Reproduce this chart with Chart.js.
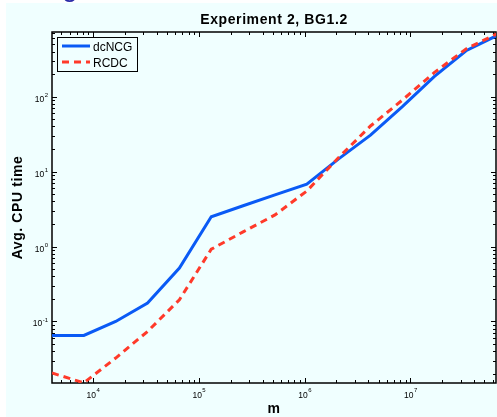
<!DOCTYPE html>
<html><head><meta charset="utf-8">
<script src="https://cdn.jsdelivr.net/npm/chart.js@4/dist/chart.umd.min.js"></script>
<style>html,body{margin:0;padding:0;background:#fff;overflow:hidden}canvas{display:block}</style>
</head><body><canvas id="c" width="497" height="417"></canvas>
<script>
// ---- data ----
const mValues = [4096, 8192, 16384, 32768, 65536, 131072, 262144, 524288, 1048576, 2097152, 4194304, 8388608, 16777216, 33554432, 67108864];
const dcNCG = [0.065, 0.065, 0.10, 0.176, 0.515, 2.5, 3.5, 4.9, 6.8, 14.8, 30.6, 73.6, 185, 410, 664];
const RCDC  = [0.0205, 0.0152, 0.0325, 0.0736, 0.195, 0.92, 1.57, 2.64, 5.5, 15.4, 40.6, 90, 209, 433, 700];
const seriesNames = ['dcNCG', 'RCDC'];
const xTickExponents = ['4', '5', '6', '7'];
const yTickExponents = ['-1', '0', '1', '2'];
const chartTitle = 'Experiment 2, BG1.2';
const xAxisLabel = 'm';
const yAxisLabel = 'Avg. CPU time';
const xRange = [4096, 6.44e7];
const yRange = [0.0151, 729];

const BLUE = '#0a5af5', RED = '#ff3a2a', BG = '#f0ffff';
const FONT = '"Liberation Sans", Arial, Helvetica, sans-serif';

const pairs = (arr) => mValues.map((m, i) => ({x: m, y: arr[i]}));

const matlabPlugin = {
  id: 'matlab',
  beforeDraw(chart) {
    const ctx = chart.ctx;
    ctx.save();
    ctx.fillStyle = '#fff';
    ctx.fillRect(0, 0, chart.width, chart.height);
    ctx.fillStyle = BG;
    ctx.fillRect(6, 3, chart.width - 6, chart.height - 3);
    // clipped glyph from text above the figure
    ctx.fillStyle = '#2b2ba8';
    ctx.font = '28px ' + FONT;
    ctx.textBaseline = 'alphabetic';
    ctx.fillText('g', 62, -4);
    ctx.restore();
  },
  beforeDatasetsDraw(chart) {
    const ctx = chart.ctx, a = chart.chartArea;
    const xs = chart.scales.x, ys = chart.scales.y;
    ctx.save();
    ctx.strokeStyle = '#000';
    ctx.lineWidth = 1;
    ctx.beginPath();
    for (let k = 3; k <= 7; k++) {
      for (let d = 1; d <= 9; d++) {
        const v = d * Math.pow(10, k);
        if (v < xRange[0] || v > xRange[1]) continue;
        const px = Math.round(xs.getPixelForValue(v)) + 0.5;
        const len = d === 1 ? 5 : 3;
        ctx.moveTo(px, a.bottom); ctx.lineTo(px, a.bottom - len);
        ctx.moveTo(px, a.top); ctx.lineTo(px, a.top + len);
      }
    }
    for (let k = -2; k <= 2; k++) {
      for (let d = 1; d <= 9; d++) {
        const v = d * Math.pow(10, k);
        if (v < yRange[0] || v > yRange[1]) continue;
        const py = Math.round(ys.getPixelForValue(v)) + 0.5;
        const len = d === 1 ? 5 : 3;
        ctx.moveTo(a.left, py); ctx.lineTo(a.left + len, py);
        ctx.moveTo(a.right, py); ctx.lineTo(a.right - len, py);
      }
    }
    ctx.stroke();
    ctx.lineWidth = 1.5;
    ctx.strokeRect(a.left, a.top, a.right - a.left, a.bottom - a.top);
    ctx.restore();
  },
  afterDraw(chart) {
    const ctx = chart.ctx, a = chart.chartArea;
    const xs = chart.scales.x, ys = chart.scales.y;
    ctx.save();
    ctx.fillStyle = '#000';
    ctx.textBaseline = 'alphabetic';
    // x tick labels
    xTickExponents.forEach(e => {
      const px = xs.getPixelForValue(Math.pow(10, +e));
      ctx.font = '8.5px ' + FONT;
      const w1 = ctx.measureText('10').width;
      ctx.font = '6px ' + FONT;
      const w2 = ctx.measureText(e).width;
      const x0 = px - (w1 + w2) / 2;
      ctx.font = '8.5px ' + FONT;
      ctx.textAlign = 'left';
      ctx.fillText('10', x0, 398);
      ctx.font = '6px ' + FONT;
      ctx.fillText(e, x0 + w1 + 0.5, 392);
    });
    // y tick labels
    yTickExponents.forEach(e => {
      const py = ys.getPixelForValue(Math.pow(10, +e));
      ctx.font = '8.5px ' + FONT;
      const w1 = ctx.measureText('10').width;
      ctx.font = '6px ' + FONT;
      const w2 = ctx.measureText(e).width;
      const x0 = 48 - (w1 + w2 + 0.5);
      ctx.font = '8.5px ' + FONT;
      ctx.textAlign = 'left';
      ctx.fillText('10', x0, py + 5);
      ctx.font = '6px ' + FONT;
      ctx.fillText(e, x0 + w1 + 0.5, py + 0.5);
    });
    // title
    ctx.textAlign = 'center';
    ctx.font = 'bold 14px ' + FONT;
    ctx.letterSpacing = '0.6px';
    ctx.fillText(chartTitle, (a.left + a.right) / 2, 24);
    // x label
    ctx.fillText(xAxisLabel, (a.left + a.right) / 2, 413);
    // y label
    ctx.save();
    ctx.translate(22, (a.top + a.bottom) / 2);
    ctx.rotate(-Math.PI / 2);
    ctx.fillText(yAxisLabel, 0, 0);
    ctx.restore();
    ctx.letterSpacing = '0px';
    // legend
    const lx = 57, ly = 37, lw = 80, lh = 34;
    ctx.fillStyle = BG;
    ctx.fillRect(lx, ly, lw, lh);
    ctx.strokeStyle = '#000';
    ctx.lineWidth = 1;
    ctx.strokeRect(lx + 0.5, ly + 0.5, lw, lh);
    const rows = [[seriesNames[0], BLUE, []], [seriesNames[1], RED, [7, 5]]];
    rows.forEach((r, i) => {
      const yy = 46 + i * 16;
      ctx.strokeStyle = r[1];
      ctx.lineWidth = 3;
      ctx.setLineDash(r[2]);
      ctx.beginPath();
      ctx.moveTo(62, yy); ctx.lineTo(90, yy);
      ctx.stroke();
      ctx.setLineDash([]);
      ctx.fillStyle = '#000';
      ctx.font = '12px ' + FONT;
      ctx.textAlign = 'left';
      ctx.fillText(r[0], 93, yy + 4.5);
    });
    ctx.restore();
  }
};

new Chart(document.getElementById('c'), {
  type: 'line',
  data: {
    datasets: [
      {label: seriesNames[0], data: pairs(dcNCG), borderColor: BLUE, borderWidth: 3, pointRadius: 0, tension: 0, fill: false, order: 1},
      {label: seriesNames[1], data: pairs(RCDC), borderColor: RED, borderWidth: 3, borderDash: [7, 5], pointRadius: 0, tension: 0, fill: false, order: 0}
    ]
  },
  options: {
    responsive: false,
    animation: false,
    devicePixelRatio: 1,
    layout: {padding: {left: 52, right: 1, top: 32, bottom: 34}},
    plugins: {legend: {display: false}, title: {display: false}, tooltip: {enabled: false}},
    scales: {
      x: {type: 'logarithmic', display: false, min: xRange[0], max: xRange[1]},
      y: {type: 'logarithmic', display: false, min: yRange[0], max: yRange[1]}
    }
  },
  plugins: [matlabPlugin]
});
</script>
</body></html>
